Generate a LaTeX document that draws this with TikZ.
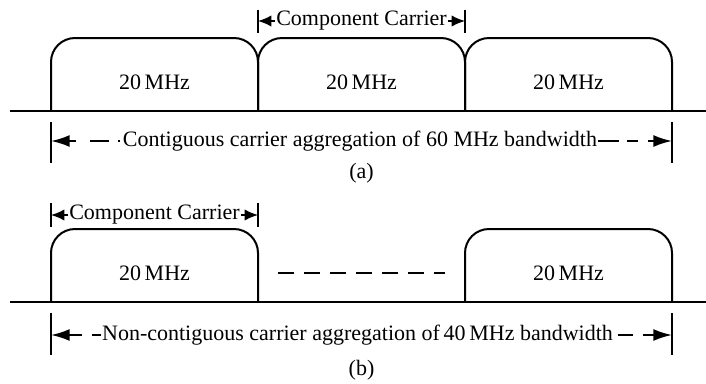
\documentclass[tikz,border=0pt]{standalone}
\usepackage{fontspec}
\setmainfont{Liberation Serif}
\usetikzlibrary{arrows.meta}

\begin{document}
\begin{tikzpicture}[x=0.75pt, y=-0.75pt, line width=1.5pt,
    every node/.style = {font=\fontsize{16.5}{19}\selectfont, inner sep=0pt},
    carrier/.style = {rounded corners=18pt},
    bar/.style = {line width=1.2pt},
    gap/.style = {line width=1.7pt, dash pattern=on 12pt off 7.5pt},
    ccarrow/.style = {-{Latex[length=10pt,width=8.5pt]}, line width=1.2pt},
    bwarrow/.style = {-{Latex[length=14pt,width=9pt]}, line width=1.5pt}]
  \useasboundingbox (0,0) rectangle (706,383);

  % (a) three adjacent carriers
  \draw (10,111) -- (706,111);
  \foreach \x/\name in {51/ca1, 258/ca2, 465/ca3} {
    \draw[carrier] (\x,111) -- (\x,38) -- (\x+207,38) -- (\x+207,111);
    \node (\name) at (\x+103.5,82) {20\,MHz};
  }

  \node (cca) at (361.5,21) {Component Carrier};
  \draw[bar] (258,10) -- (258,33);
  \draw[bar] (465,10) -- (465,33);
  \coordinate (ccaL) at (258,21);
  \coordinate (ccaR) at (465,21);
  \draw[ccarrow] (cca) -- (ccaL);
  \draw[ccarrow] (cca) -- (ccaR);

  \node (bwa) at (360,141) {Contiguous carrier aggregation of 60 MHz bandwidth};
  \draw[bar] (51,122) -- (51,163);
  \draw[bar] (672,122) -- (672,163);
  \coordinate (bwaL) at (51,141);
  \coordinate (bwaR) at (672,141);
  \draw[bwarrow, dash pattern=on 1.1pt off 7pt on 14pt off 11pt on 60pt off 0pt]
    ([xshift=-1.5pt]bwa.west) -- (bwaL);
  \draw[bwarrow, dash pattern=on 15.8pt off 6pt on 8.2pt off 7.5pt on 60pt off 0pt]
    (bwa.east) -- (bwaR);

  \node (capa) at (361.5,173) {(a)};

  % (b) two carriers with a gap
  \draw (10,302) -- (706,302);
  \foreach \x/\name in {51/cb1, 465/cb2} {
    \draw[carrier] (\x,302) -- (\x,229) -- (\x+207,229) -- (\x+207,302);
    \node (\name) at (\x+103.5,273) {20\,MHz};
  }
  \coordinate (gapL) at (278,273);
  \coordinate (gapR) at (445,273);
  \draw[gap] (gapL) -- (gapR);

  \node (ccb) at (154.5,215) {Component Carrier};
  \draw[bar] (51,203) -- (51,227);
  \draw[bar] (258,203) -- (258,227);
  \coordinate (ccbL) at (51,215);
  \coordinate (ccbR) at (258,215);
  \draw[ccarrow] (ccb) -- (ccbL);
  \draw[ccarrow] (ccb) -- (ccbR);

  \node (bwb) at (357.5,335) {Non-contiguous carrier aggregation of\,40\,MHz bandwidth};
  \draw[bar] (51,313) -- (51,355);
  \draw[bar] (672,313) -- (672,355);
  \coordinate (bwbL) at (51,335);
  \coordinate (bwbR) at (672,335);
  \draw[bwarrow, dash pattern=on 6.8pt off 7.5pt on 60pt off 0pt]
    (bwb.west) -- (bwbL);
  \draw[bwarrow, dash pattern=on 0pt off 3pt on 11pt off 8pt on 60pt off 0pt]
    (bwb.east) -- (bwbR);

  \node (capb) at (361.5,370) {(b)};
\end{tikzpicture}
\end{document}
